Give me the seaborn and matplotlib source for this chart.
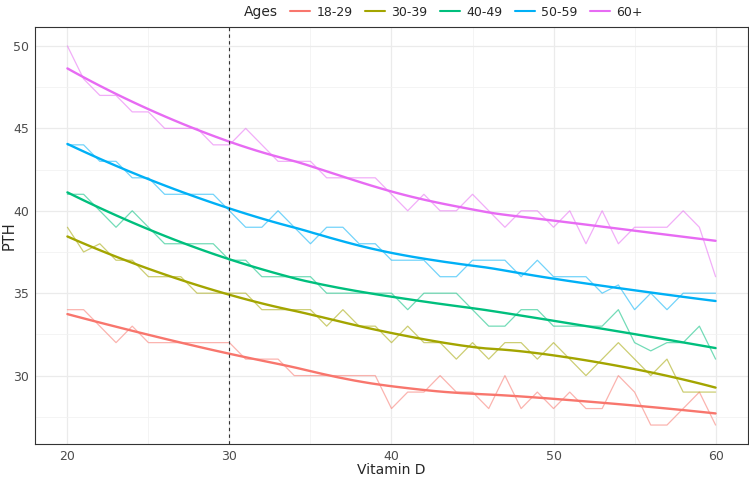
import numpy as np
import pandas as pd
import matplotlib
matplotlib.use("Agg")
import matplotlib.pyplot as plt
from matplotlib.lines import Line2D
import seaborn as sns

vitamin_d = list(range(20, 61))
ages = ["18-29", "30-39", "40-49", "50-59", "60+"]

pth_18_29 = [34, 34, 33, 32, 33, 32, 32, 32, 32, 32, 32, 31, 31, 31, 30, 30, 30, 30, 30, 30,
             28, 29, 29, 30, 29, 29, 28, 30, 28, 29, 28, 29, 28, 28, 30, 29, 27, 27, 28, 29, 27]
pth_30_39 = [39, 37.5, 38, 37, 37, 36, 36, 36, 35, 35, 35, 35, 34, 34, 34, 34, 33, 34, 33, 33,
             32, 33, 32, 32, 31, 32, 31, 32, 32, 31, 32, 31, 30, 31, 32, 31, 30, 31, 29, 29, 29]
pth_40_49 = [41, 41, 40, 39, 40, 39, 38, 38, 38, 38, 37, 37, 36, 36, 36, 36, 35, 35, 35, 35,
             35, 34, 35, 35, 35, 34, 33, 33, 34, 34, 33, 33, 33, 33, 34, 32, 31.5, 32, 32, 33, 31]
pth_50_59 = [44, 44, 43, 43, 42, 42, 41, 41, 41, 41, 40, 39, 39, 40, 39, 38, 39, 39, 38, 38,
             37, 37, 37, 36, 36, 37, 37, 37, 36, 37, 36, 36, 36, 35, 35.5, 34, 35, 34, 35, 35, 35]
pth_60 = [50, 48, 47, 47, 46, 46, 45, 45, 45, 44, 44, 45, 44, 43, 43, 43, 42, 42, 42, 42,
          41, 40, 41, 40, 40, 41, 40, 39, 40, 40, 39, 40, 38, 40, 38, 39, 39, 39, 40, 39, 36]

colors = ["#F8766D", "#A3A500", "#00BF7D", "#00B0F6", "#E76BF3"]
series = [pth_18_29, pth_30_39, pth_40_49, pth_50_59, pth_60]

rows = []
for a, vals in zip(ages, series):
    for x, v in zip(vitamin_d, vals):
        rows.append({"Vitamin D": x, "PTH": v, "Ages": a})
df = pd.DataFrame(rows)


def loess(x, y, xout, span=0.75):
    x = np.asarray(x, float); y = np.asarray(y, float)
    n = len(x); q = int(np.floor(n * span))
    out = []
    for x0 in xout:
        d = np.abs(x - x0)
        h = np.sort(d)[q - 1]
        w = np.clip(1 - (d / h) ** 3, 0, None) ** 3
        X = np.vstack([np.ones_like(x), x - x0, (x - x0) ** 2]).T
        W = np.diag(w)
        beta = np.linalg.solve(X.T @ W @ X, X.T @ W @ y)
        out.append(beta[0])
    return np.array(out)


grid = np.linspace(20, 60, 80)
srows = []
for a, vals in zip(ages, series):
    fit = loess(vitamin_d, vals, grid)
    for x, v in zip(grid, fit):
        srows.append({"Vitamin D": x, "PTH": v, "Ages": a})
sdf = pd.DataFrame(srows)

sns.set_style("white")
plt.rcParams['font.family'] = ['DejaVu Sans']
fig = plt.figure(figsize=(7.49, 4.78), dpi=100)
ax = fig.add_axes([35 / 749, (478 - 444) / 478, (748 - 35) / 749, (444 - 27) / 478])

ax.set_xlim(18, 62)
ax.set_ylim(25.85, 51.15)
ax.set_xticks([20, 30, 40, 50, 60])
ax.set_xticks([25, 35, 45, 55], minor=True)
ax.set_yticks([30, 35, 40, 45, 50])
ax.set_yticks([27.5, 32.5, 37.5, 42.5, 47.5], minor=True)
ax.grid(True, which="major", color="#EBEBEB", lw=0.9)
ax.grid(True, which="minor", color="#F2F2F2", lw=0.6)
ax.set_axisbelow(True)

palette = dict(zip(ages, colors))
sns.lineplot(data=df, x="Vitamin D", y="PTH", hue="Ages", palette=palette,
             alpha=0.55, lw=0.9, ax=ax, legend=False, estimator=None)
sns.lineplot(data=sdf, x="Vitamin D", y="PTH", hue="Ages", palette=palette,
             lw=1.7, ax=ax, legend=False, estimator=None)
ax.axvline(30, color="#333333", ls=(0, (3, 3)), lw=0.8)

for s in ax.spines.values():
    s.set_color("#333333")
    s.set_linewidth(0.8)
ax.tick_params(axis="both", which="major", length=3, width=0.6, color="#333333",
               labelsize=9, labelcolor="#4D4D4D", pad=1.5)
ax.tick_params(axis="both", which="minor", length=0)
ax.set_xlabel("Vitamin D", fontsize=10)
ax.set_ylabel("PTH", fontsize=10.5)
ax.xaxis.set_label_coords(0.5, (444 - 470) / 417)
ax.xaxis.label.set_va("center")
ax.yaxis.set_label_coords((9 - 35) / 713, 0.5)
ax.yaxis.label.set_va("center")

handles = [Line2D([], [], color=c, lw=1.5) for c in colors]
fig.text(244 / 749, 1 - 12 / 478, "Ages", fontsize=10, va="center", ha="left")
fig.legend(handles, ages, loc="center left", bbox_to_anchor=(290 / 749, 1 - 12 / 478),
           ncol=5, frameon=False, fontsize=9, handlelength=1.6, handletextpad=0.5,
           columnspacing=1.0, borderpad=0, borderaxespad=0)

fig.savefig("out.png", dpi=100)
